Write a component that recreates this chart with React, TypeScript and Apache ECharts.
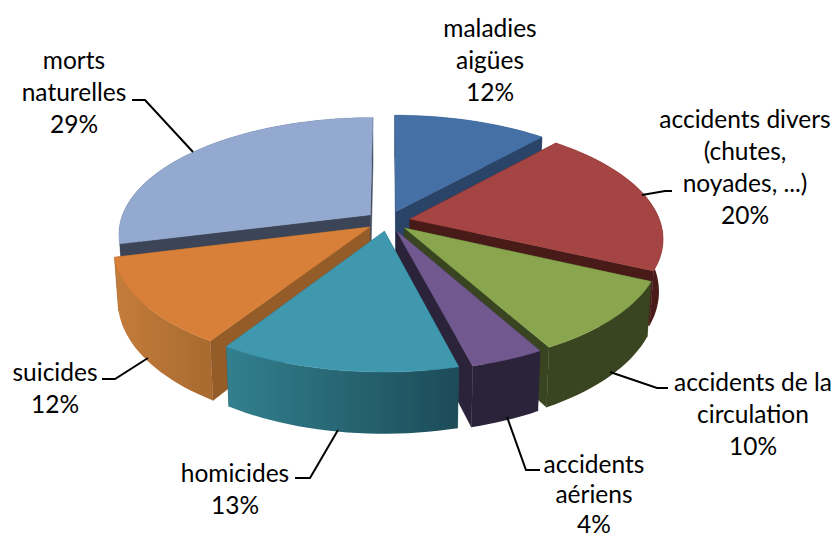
import React, { useEffect, useRef } from "react";
import * as echarts from "echarts";

const categories = [
  "maladies\naigües",
  "accidents divers\n(chutes,\nnoyades, ...)",
  "accidents de la\ncirculation",
  "accidents\naériens",
  "homicides",
  "suicides",
  "morts\nnaturelles",
];
const shares = [11.6, 20.4, 10, 4, 13, 12, 29];
const topColors = ["#4470A6", "#A54543", "#89A54E", "#71588F", "#4098AF", "#D88039", "#93A9CF"];
const cutColors = ["#2A4468", "#481A18", "#384520", "#2B2339", "#28606F", "#945C28", "#3C4557"];
const wallFrom = ["#2A4468", "#5A1F1D", "#384520", "#2B2339", "#32808F", "#C47C3A", "#3C4557"];
const wallTo = ["#2A4468", "#481A18", "#384520", "#2B2339", "#1D4B58", "#A86A30", "#3C4557"];

// view parameters of the pie
const CX = 388, CY = 221, RX = 250, RY = 114.5, K = 0.16, DEPTH = 51, EXPLODE = 0.09, START = 0;
const labelBoxes = [
  { x: 490, y: 59 }, { x: 745, y: 166 }, { x: 753, y: 413 }, { x: 594, y: 493 },
  { x: 235, y: 488 }, { x: 55, y: 387 }, { x: 74, y: 91 },
];
const labelLineHeights = [32, 32, 32, 30, 32, 32, 32];
const leaders = [
  null,
  [[642, 195], [665, 191], [672, 191]],
  [[610, 372], [657, 388], [668, 388]],
  [[507, 417], [526, 470], [540, 470]],
  [[338, 430], [310, 478], [295, 478]],
  [[148, 358], [115, 379], [102, 379]],
  [[193, 152], [145, 100], [132, 100]],
];

const rad = (d: number) => (d * Math.PI) / 180;
const total = shares.reduce((a, b) => a + b, 0);

function project(px: number, py: number, low: boolean) {
  // px: right, py: away from the viewer, in unit-circle coordinates
  const w = 1 + K * py;
  const shrink = low ? 0.985 : 1;
  return [
    CX + (RX * px * shrink) / w,
    CY - (RY * py) / w + (low ? DEPTH / w : 0),
  ];
}

function sliceGeometry(i: number) {
  let before = 0;
  for (let j = 0; j < i; j++) before += shares[j];
  const a0 = START + (before / total) * 360;
  const a1 = a0 + (shares[i] / total) * 360;
  const mid = rad((a0 + a1) / 2);
  const ox = EXPLODE * Math.sin(mid), oy = EXPLODE * Math.cos(mid);
  const arc: number[] = [];
  const n = Math.max(8, Math.ceil((a1 - a0) / 2));
  for (let s = 0; s <= n; s++) arc.push(a0 + ((a1 - a0) * s) / n);
  const pt = (deg: number | null, low: boolean) =>
    deg === null
      ? project(ox, oy, low)
      : project(ox + Math.sin(rad(deg)), oy + Math.cos(rad(deg)), low);
  return { a0, a1, arc, pt, midCos: Math.cos(mid) };
}

const paintOrder = shares
  .map((_, i) => i)
  .sort((a, b) => sliceGeometry(b).midCos - sliceGeometry(a).midCos);

function renderSlice(_params: any, api: any) {
  const i = api.value(0) as number;
  const g = sliceGeometry(i);
  const children: any[] = [];
  const top = [g.pt(null, false), ...g.arc.map((d) => g.pt(d, false))];
  const cut = (deg: number) => ({
    type: "polygon",
    shape: { points: [g.pt(null, false), g.pt(deg, false), g.pt(deg, true), g.pt(null, true)] },
    style: { fill: cutColors[i], stroke: cutColors[i], lineWidth: 0.5 },
  });
  const wall = {
    type: "polygon",
    shape: {
      points: [...g.arc.map((d) => g.pt(d, false)), ...g.arc.slice().reverse().map((d) => g.pt(d, true))],
    },
    style: {
      fill: new echarts.graphic.LinearGradient(0, 0, 1, 0, [
        { offset: 0, color: wallFrom[i] },
        { offset: 1, color: wallTo[i] },
      ]),
    },
  };
  children.push(cut(g.a0), cut(g.a1));
  children.push(wall);
  children.push({
    type: "polygon",
    shape: { points: top },
    style: { fill: topColors[i], stroke: topColors[i], lineWidth: 0.5 },
  });
  return { type: "group", children };
}

export default function App() {
  const ref = useRef<HTMLDivElement>(null);
  useEffect(() => {
    const chart = echarts.init(ref.current!, null, { renderer: "svg" });
    const graphic: any[] = [];
    categories.forEach((name, i) => {
      const l = leaders[i];
      if (l) {
        graphic.push({
          type: "polyline",
          z: 5,
          shape: { points: l },
          style: { fill: "none", stroke: "#000", lineWidth: 2 },
        });
      }
      graphic.push({
        type: "text",
        z: 6,
        x: labelBoxes[i].x,
        y: labelBoxes[i].y,
        style: {
          text: `${name}\n${Math.round(shares[i])}%`,
          font: '24.5px Lato, "Noto Sans", sans-serif',
          fill: "#000",
          align: "center",
          verticalAlign: "middle",
          lineHeight: labelLineHeights[i],
        },
      });
    });
    chart.setOption({
      animation: false,
      backgroundColor: "#fff",
      graphic,
      series: [
        {
          type: "custom",
          coordinateSystem: "none",
          renderItem: renderSlice,
          data: paintOrder.map((i) => [i, shares[i]]),
          silent: true,
          z: 2,
        },
      ],
    });
    return () => chart.dispose();
  }, []);
  return <div ref={ref} style={{ position: "absolute", left: 0, top: 0, width: 837, height: 536 }} />;
}
